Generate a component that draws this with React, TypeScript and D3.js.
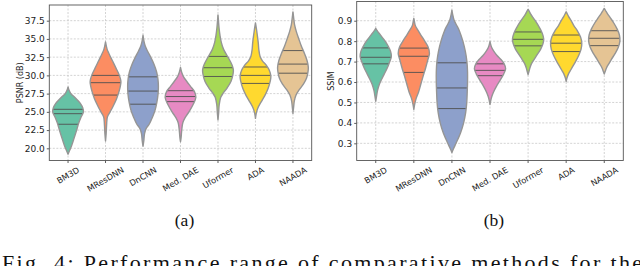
import React, { useEffect, useRef } from 'react';
import * as d3 from 'd3';

const methods = ['BM3D', 'MResDNN', 'DnCNN', 'Med. DAE', 'Uformer', 'ADA', 'NAADA'];
const colors = ['#66c2a5', '#fc8d62', '#8da0cb', '#e78ac3', '#a6d854', '#ffd92f', '#e5c494'];

const psnrTicks = [20, 22.5, 25, 27.5, 30, 32.5, 35, 37.5];
const ssimTicks = [0.3, 0.4, 0.5, 0.6, 0.7, 0.8, 0.9];

// violin outlines: [value, relative density], bottom tip to top tip
const psnrShapes: [number, number][][] = [
  [[19.2, 0], [19.7, 0.1], [20.3, 0.22], [21.3, 0.38], [22.5, 0.56], [23.5, 0.7], [24.3, 0.85], [25.0, 1.0], [25.6, 0.95], [26.1, 0.82], [26.6, 0.62], [27.1, 0.38], [27.5, 0.18], [28.0, 0.06], [28.4, 0]],
  [[21.0, 0], [22.0, 0.04], [23.2, 0.07], [24.3, 0.12], [25.0, 0.3], [25.8, 0.5], [26.8, 0.72], [27.8, 0.88], [28.6, 0.97], [29.2, 1.0], [30.0, 0.9], [31.0, 0.68], [32.0, 0.45], [33.0, 0.22], [33.6, 0.1], [34.6, 0]],
  [[20.3, 0], [21.0, 0.05], [22.0, 0.1], [22.7, 0.2], [23.3, 0.4], [24.2, 0.6], [25.2, 0.78], [26.3, 0.9], [27.5, 0.98], [28.5, 1.0], [29.5, 0.97], [30.5, 0.88], [31.5, 0.72], [32.5, 0.5], [33.3, 0.3], [34.0, 0.15], [34.7, 0.06], [35.5, 0]],
  [[20.9, 0], [21.5, 0.04], [22.5, 0.08], [23.5, 0.15], [24.2, 0.3], [25.0, 0.55], [26.0, 0.82], [27.0, 1.0], [27.8, 0.9], [28.5, 0.65], [29.2, 0.4], [29.8, 0.2], [30.4, 0.08], [31.1, 0]],
  [[23.9, 0], [24.8, 0.04], [26.0, 0.08], [27.0, 0.18], [27.6, 0.35], [28.3, 0.6], [29.2, 0.85], [30.2, 0.98], [30.8, 1.0], [31.5, 0.9], [32.5, 0.65], [33.5, 0.38], [34.5, 0.22], [35.5, 0.13], [36.5, 0.07], [37.5, 0.03], [38.3, 0]],
  [[24.1, 0], [24.8, 0.05], [25.5, 0.15], [26.3, 0.35], [27.2, 0.6], [28.2, 0.82], [29.2, 0.96], [29.9, 1.0], [30.7, 0.9], [31.4, 0.7], [32.0, 0.45], [32.6, 0.3], [33.5, 0.22], [34.5, 0.18], [35.5, 0.12], [36.4, 0.06], [37.2, 0]],
  [[24.8, 0], [25.6, 0.04], [26.5, 0.09], [27.3, 0.2], [28.0, 0.4], [28.8, 0.68], [29.6, 0.88], [30.5, 0.98], [31.1, 1.0], [32.0, 0.92], [33.0, 0.75], [34.0, 0.55], [35.0, 0.38], [36.0, 0.22], [37.0, 0.1], [38.0, 0.04], [38.7, 0]],
];
const psnrQuartiles = [
  [23.3, 24.75, 25.35],
  [27.3, 29.0, 30.0],
  [26.05, 27.85, 29.8],
  [26.4, 27.1, 27.9],
  [29.85, 31.05, 32.6],
  [28.9, 30.0, 31.15],
  [30.3, 31.55, 33.4],
];

const ssimShapes: [number, number][][] = [
  [[0.506, 0], [0.53, 0.05], [0.56, 0.12], [0.59, 0.24], [0.62, 0.42], [0.65, 0.62], [0.68, 0.8], [0.70, 0.9], [0.725, 1.0], [0.75, 0.95], [0.775, 0.8], [0.80, 0.6], [0.82, 0.4], [0.84, 0.2], [0.853, 0.08], [0.863, 0]],
  [[0.466, 0], [0.49, 0.05], [0.52, 0.15], [0.55, 0.3], [0.59, 0.45], [0.63, 0.6], [0.67, 0.76], [0.71, 0.9], [0.74, 1.0], [0.77, 0.92], [0.80, 0.7], [0.83, 0.45], [0.855, 0.25], [0.875, 0.1], [0.895, 0.04], [0.911, 0]],
  [[0.255, 0], [0.27, 0.08], [0.29, 0.2], [0.32, 0.38], [0.35, 0.55], [0.40, 0.75], [0.45, 0.88], [0.50, 0.95], [0.55, 0.98], [0.60, 1.0], [0.65, 1.0], [0.70, 0.96], [0.75, 0.86], [0.80, 0.7], [0.85, 0.48], [0.87, 0.36], [0.885, 0.25], [0.905, 0.13], [0.93, 0.05], [0.952, 0]],
  [[0.49, 0], [0.51, 0.05], [0.53, 0.12], [0.55, 0.22], [0.58, 0.42], [0.61, 0.66], [0.64, 0.88], [0.665, 1.0], [0.69, 0.9], [0.71, 0.7], [0.73, 0.45], [0.75, 0.25], [0.77, 0.1], [0.785, 0.04], [0.798, 0]],
  [[0.636, 0], [0.65, 0.05], [0.67, 0.12], [0.69, 0.22], [0.71, 0.38], [0.73, 0.55], [0.76, 0.8], [0.79, 0.96], [0.81, 1.0], [0.84, 0.9], [0.87, 0.7], [0.895, 0.5], [0.915, 0.32], [0.935, 0.15], [0.948, 0.06], [0.955, 0]],
  [[0.603, 0], [0.62, 0.05], [0.64, 0.15], [0.66, 0.3], [0.68, 0.45], [0.70, 0.6], [0.73, 0.8], [0.76, 0.95], [0.79, 1.0], [0.82, 0.92], [0.85, 0.72], [0.875, 0.5], [0.90, 0.32], [0.92, 0.16], [0.935, 0.06], [0.944, 0]],
  [[0.639, 0], [0.65, 0.05], [0.67, 0.15], [0.69, 0.3], [0.71, 0.45], [0.74, 0.7], [0.77, 0.9], [0.80, 1.0], [0.83, 0.97], [0.86, 0.82], [0.89, 0.6], [0.915, 0.38], [0.935, 0.2], [0.95, 0.08], [0.96, 0]],
];
const ssimQuartiles = [
  [0.689, 0.721, 0.767],
  [0.647, 0.726, 0.766],
  [0.470, 0.571, 0.694],
  [0.631, 0.657, 0.689],
  [0.777, 0.809, 0.845],
  [0.749, 0.790, 0.830],
  [0.778, 0.814, 0.851],
];

const captionText = 'Fig. 4: Performance range of comparative methods for the';

const SANS = 'DejaVu Sans, sans-serif';
const SERIF = 'Liberation Serif, Times New Roman, serif';

interface PanelOpts {
  key: string;
  left: number;
  right: number;
  top: number;
  bottom: number;
  domain: [number, number];
  ticks: number[];
  label: string;
  labelX: number;
  sub: string;
  shapes: [number, number][][];
  quartiles: number[][];
}

function drawPanel(svg: d3.Selection<SVGSVGElement, unknown, null, undefined>, o: PanelOpts) {
  const g = svg.append('g');
  const x = d3.scaleBand<string>().domain(methods).range([o.left, o.right]);
  const bw = x.bandwidth();
  const cx = (m: string) => (x(m) as number) + bw / 2;
  const y = d3.scaleLinear().domain(o.domain).range([o.bottom, o.top]);
  const w = d3.scaleLinear().domain([0, 1]).range([0, bw * 0.41]);

  // grid
  g.selectAll('.hgrid')
    .data(o.ticks)
    .enter()
    .append('line')
    .attr('x1', o.left)
    .attr('x2', o.right)
    .attr('y1', d => y(d))
    .attr('y2', d => y(d))
    .attr('stroke', '#c8c8c8')
    .attr('stroke-width', 0.8)
    .attr('stroke-dasharray', '2,1.5');
  g.selectAll('.vgrid')
    .data(methods)
    .enter()
    .append('line')
    .attr('x1', d => cx(d))
    .attr('x2', d => cx(d))
    .attr('y1', o.top)
    .attr('y2', o.bottom)
    .attr('stroke', '#c8c8c8')
    .attr('stroke-width', 0.8)
    .attr('stroke-dasharray', '2,1.5');

  // violins
  const defs = svg.select('defs').empty() ? svg.append('defs') : svg.select('defs');
  methods.forEach((m, i) => {
    const c = cx(m);
    const area = d3.area<[number, number]>()
      .y(d => y(d[0]))
      .x0(d => c - w(d[1]))
      .x1(d => c + w(d[1]))
      .curve(d3.curveCatmullRom.alpha(0.5));
    const d = area(o.shapes[i]) as string;
    const clipId = `clip-${o.key}-${i}`;
    (defs as any).append('clipPath').attr('id', clipId).append('path').attr('d', d);

    g.append('path').attr('d', d).attr('fill', colors[i]);

    g.append('g')
      .attr('clip-path', `url(#${clipId})`)
      .selectAll('line')
      .data(o.quartiles[i])
      .enter()
      .append('line')
      .attr('x1', c - bw / 2)
      .attr('x2', c + bw / 2)
      .attr('y1', q => y(q))
      .attr('y2', q => y(q))
      .attr('stroke', '#505050')
      .attr('stroke-width', 0.9);

    g.append('path')
      .attr('d', d)
      .attr('fill', 'none')
      .attr('stroke', '#959595')
      .attr('stroke-width', 1.4)
      .attr('stroke-linejoin', 'round');
  });

  // y axis
  const ya = g.append('g')
    .attr('transform', `translate(${o.left},0)`)
    .call(d3.axisLeft(y).tickValues(o.ticks).tickFormat(d3.format('.1f')).tickSize(2.5).tickPadding(2));
  ya.select('.domain').remove();
  ya.selectAll('.tick line').attr('stroke', '#333').attr('stroke-width', 0.8);
  ya.selectAll('text').attr('font-family', SANS).attr('font-size', 9).attr('fill', '#222');

  // x axis ticks
  const xa = g.append('g')
    .attr('transform', `translate(0,${o.bottom})`)
    .call(d3.axisBottom(x).tickFormat(() => '').tickSize(2.5));
  xa.select('.domain').remove();
  xa.selectAll('.tick line').attr('stroke', '#333').attr('stroke-width', 0.8);

  // rotated category labels
  methods.forEach(m => {
    const t = g.append('text')
      .attr('font-family', SANS)
      .attr('font-size', 8.3)
      .attr('fill', '#222')
      .attr('text-anchor', 'middle')
      .attr('dominant-baseline', 'central')
      .text(m);
    const len = (t.node() as SVGTextElement).getComputedTextLength();
    const h = len * 0.5 + 8.3 * 0.866;
    t.attr('transform', `translate(${cx(m)},${o.bottom + 5 + h / 2}) rotate(-30)`);
  });

  // frame
  g.append('rect')
    .attr('x', o.left)
    .attr('y', o.top)
    .attr('width', o.right - o.left)
    .attr('height', o.bottom - o.top)
    .attr('fill', 'none')
    .attr('stroke', '#555')
    .attr('stroke-width', 0.9);

  // axis label
  g.append('text')
    .attr('transform', `translate(${o.labelX},${(o.top + o.bottom) / 2}) rotate(-90)`)
    .attr('text-anchor', 'middle')
    .attr('dominant-baseline', 'central')
    .attr('font-family', SANS)
    .attr('font-size', 8)
    .attr('fill', '#222')
    .text(o.label);

  // sub caption
  g.append('text')
    .attr('x', (o.left + o.right) / 2 + 4)
    .attr('y', 226)
    .attr('text-anchor', 'middle')
    .attr('font-family', SERIF)
    .attr('font-size', 17.5)
    .attr('fill', '#111')
    .text(o.sub);
}

const App: React.FC = () => {
  const svgRef = useRef<SVGSVGElement>(null);

  useEffect(() => {
    if (!svgRef.current) return;
    const svg = d3.select(svgRef.current);
    svg.selectAll('*').remove();

    drawPanel(svg, {
      key: 'psnr',
      left: 49.3,
      right: 311.7,
      top: 5,
      bottom: 160.5,
      domain: [18.33, 39.65],
      ticks: psnrTicks,
      label: 'PSNR (dB)',
      labelX: 20.5,
      sub: '(a)',
      shapes: psnrShapes,
      quartiles: psnrQuartiles,
    });
    drawPanel(svg, {
      key: 'ssim',
      left: 356.7,
      right: 623.3,
      top: 1.5,
      bottom: 160.5,
      domain: [0.216, 0.994],
      ticks: ssimTicks,
      label: 'SSIM',
      labelX: 331,
      sub: '(b)',
      shapes: ssimShapes,
      quartiles: ssimQuartiles,
    });

    // figure caption, stretched across the page width (cut at the bottom like the source)
    svg.append('text')
      .attr('x', 2)
      .attr('y', 270)
      .attr('font-family', SERIF)
      .attr('font-size', 22)
      .attr('fill', '#111')
      .attr('textLength', 640)
      .attr('lengthAdjust', 'spacing')
      .text(captionText);
  }, []);

  return (
    <svg
      ref={svgRef}
      width={640}
      height={266}
      style={{ position: 'absolute', left: 0, top: 0, background: '#fff' }}
    />
  );
};

export default App;
